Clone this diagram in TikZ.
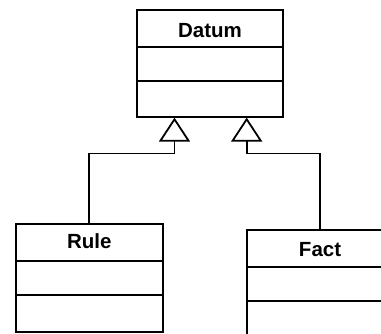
\documentclass[tikz,border=0pt]{standalone}
\usepackage{fontspec}
\setmainfont{Liberation Sans}
\usetikzlibrary{arrows.meta,calc}
\begin{document}
\begin{tikzpicture}[x=1pt,y=-1pt, line width=1.8pt,
  classbox/.style={draw, rectangle, minimum width=146.7pt, minimum height=107.7pt, inner sep=0pt},
  classtitle/.style={font=\bfseries\fontsize{20.5}{24}\selectfont, anchor=base, inner sep=0pt},
  inherit/.style={-{Triangle[open,length=24pt,width=31pt]}}]
\useasboundingbox (0,0) rectangle (381,334);
\clip (0,0) rectangle (381,334);
% classes
\node[classbox, minimum height=106.7pt] (datum) at (210,63.35) {};
\node[classbox] (rule) at (89.35,277.85) {};
\node[classbox] (fact) at (320.05,283.85) {};
% compartments
\draw ($(datum.north west)+(0,37.7)$) -- ($(datum.north east)+(0,37.7)$);
\draw ($(datum.north west)+(0,71.7)$) -- ($(datum.north east)+(0,71.7)$);
\draw ($(rule.north west)+(0,38.3)$) -- ($(rule.north east)+(0,38.3)$);
\draw ($(rule.north west)+(0,71.7)$) -- ($(rule.north east)+(0,71.7)$);
\draw ($(fact.north west)+(0,37.7)$) -- ($(fact.north east)+(0,37.7)$);
\draw ($(fact.north west)+(0,71.7)$) -- ($(fact.north east)+(0,71.7)$);
% titles
\node[classtitle] (datumname) at (210,37.3) {Datum};
\node[classtitle] (rulename) at (89.35,248.3) {Rule};
\node[classtitle] (factname) at (320.05,256.7) {Fact};
% inheritance
\coordinate (tl) at ($(datum.south)+(-35.5,0)$);
\coordinate (tr) at ($(datum.south)+(36.7,0)$);
\draw[inherit] (rule.north) |- ([yshift=-36pt]tl) -- (tl);
\draw[inherit] (fact.north) |- ([yshift=-36pt]tr) -- (tr);
\end{tikzpicture}
\end{document}
